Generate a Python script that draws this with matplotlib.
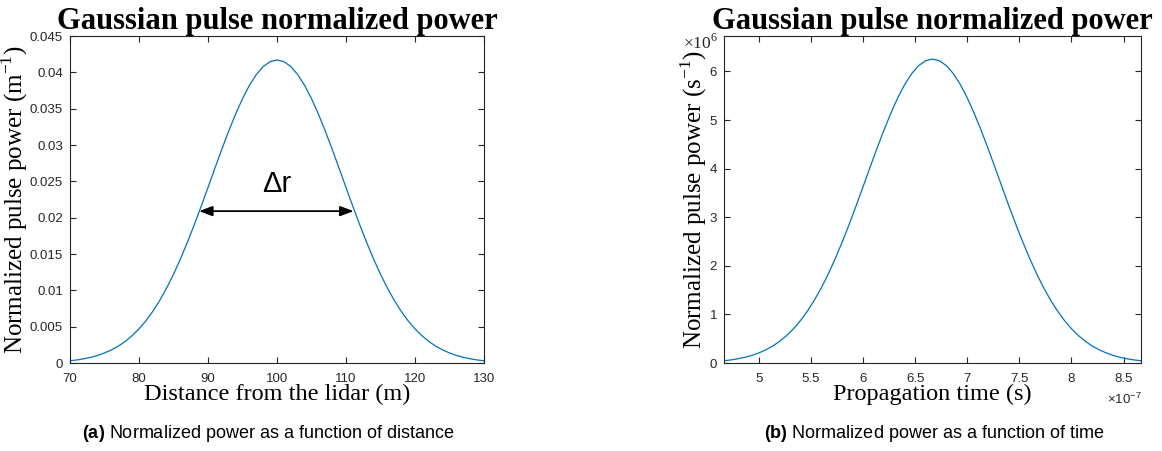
import matplotlib
matplotlib.use("Agg")
import matplotlib.pyplot as plt

# ---- data ----
distance_m = list(range(70, 131))
power_dist = [0.00031, 0.00042, 0.00058, 0.00078, 0.00104, 0.00138, 0.00180, 0.00232,
              0.00297, 0.00376, 0.00470, 0.00581, 0.00711, 0.00861, 0.01031, 0.01221,
              0.01431, 0.01658, 0.01900, 0.02154, 0.02416, 0.02680, 0.02941, 0.03191,
              0.03426, 0.03638, 0.03821, 0.03970, 0.04080, 0.04147, 0.04170,
              0.04147, 0.04080, 0.03970, 0.03821, 0.03638, 0.03426, 0.03191, 0.02941,
              0.02680, 0.02416, 0.02154, 0.01900, 0.01658, 0.01431, 0.01221, 0.01031,
              0.00861, 0.00711, 0.00581, 0.00470, 0.00376, 0.00297, 0.00232, 0.00180,
              0.00138, 0.00104, 0.00078, 0.00058, 0.00042, 0.00031]

time_e7 = [4.6667, 4.7333, 4.8, 4.8667, 4.9333, 5.0, 5.0667, 5.1333, 5.2, 5.2667,
           5.3333, 5.4, 5.4667, 5.5333, 5.6, 5.6667, 5.7333, 5.8, 5.8667, 5.9333,
           6.0, 6.0667, 6.1333, 6.2, 6.2667, 6.3333, 6.4, 6.4667, 6.5333, 6.6,
           6.6667, 6.7333, 6.8, 6.8667, 6.9333, 7.0, 7.0667, 7.1333, 7.2, 7.2667,
           7.3333, 7.4, 7.4667, 7.5333, 7.6, 7.6667, 7.7333, 7.8, 7.8667, 7.9333,
           8.0, 8.0667, 8.1333, 8.2, 8.2667, 8.3333, 8.4, 8.4667, 8.5333, 8.6, 8.6667]
power_time_e6 = [0.047, 0.063, 0.087, 0.117, 0.156, 0.207, 0.270, 0.348, 0.446, 0.564,
                 0.705, 0.872, 1.067, 1.292, 1.547, 1.832, 2.147, 2.487, 2.850, 3.231,
                 3.624, 4.020, 4.412, 4.787, 5.139, 5.457, 5.732, 5.955, 6.120, 6.220,
                 6.255,
                 6.220, 6.120, 5.955, 5.732, 5.457, 5.139, 4.787, 4.412, 4.020, 3.624,
                 3.231, 2.850, 2.487, 2.147, 1.832, 1.547, 1.292, 1.067, 0.872, 0.705,
                 0.564, 0.446, 0.348, 0.270, 0.207, 0.156, 0.117, 0.087, 0.063, 0.047]

dist_ticks = [70, 80, 90, 100, 110, 120, 130]
dist_yticks = [0, 0.005, 0.01, 0.015, 0.02, 0.025, 0.03, 0.035, 0.04, 0.045]
dist_yticklabels = ["0", "0.005", "0.01", "0.015", "0.02", "0.025", "0.03", "0.035", "0.04", "0.045"]
time_ticks = [5, 5.5, 6, 6.5, 7, 7.5, 8, 8.5]
time_ticklabels = ["5", "5.5", "6", "6.5", "7", "7.5", "8", "8.5"]
time_yticks = [0, 1, 2, 3, 4, 5, 6]
delta_r_span = [88.7, 111.1]
delta_r_level = 0.0209

SERIF = "Liberation Serif"
SANS = "Liberation Sans"
GREY = "#262626"
LINE = "#0072BD"

plt.rcParams["mathtext.fontset"] = "custom"
plt.rcParams["mathtext.rm"] = "Liberation Sans"
plt.rcParams["mathtext.bf"] = "Liberation Sans:bold"

W, H = 1162, 451
fig = plt.figure(figsize=(W / 100, H / 100), dpi=100)


def px_axes(x0, x1, ytop, ybot):
    return fig.add_axes([x0 / W, 1 - ybot / H, (x1 - x0) / W, (ybot - ytop) / H])


def style(ax):
    for s in ax.spines.values():
        s.set_color(GREY)
        s.set_linewidth(0.8)
    ax.tick_params(direction="in", length=4, width=0.8, colors=GREY,
                   top=True, right=True, labelsize=9.5)
    ax.tick_params(axis="x", pad=7.5)
    ax.tick_params(axis="y", pad=5)
    for lab in ax.get_xticklabels() + ax.get_yticklabels():
        lab.set_family(SANS)
        lab.set_color(GREY)


TITLE = dict(family=SERIF, fontsize=22, fontweight="bold", pad=5)

# ---- left panel ----
ax1 = px_axes(70, 484, 36, 363)
ax1.plot(distance_m, power_dist, color=LINE, lw=0.9)
ax1.set_xlim(70, 130)
ax1.set_ylim(0, 0.045)
ax1.set_xticks(dist_ticks)
ax1.set_xticklabels([str(t) for t in dist_ticks])
ax1.set_yticks(dist_yticks)
ax1.set_yticklabels(dist_yticklabels)
style(ax1)
ax1.set_title("Gaussian pulse normalized power", **TITLE)
ax1.set_xlabel("Distance from the lidar (m)", family=SERIF, fontsize=17.5, labelpad=-1)
ax1.set_ylabel("Normalized pulse power (m$^{\\mathregular{-1}}$)", family=SERIF,
               fontsize=18, labelpad=-0.5)
ax1.annotate("", xy=(delta_r_span[0], delta_r_level), xytext=(delta_r_span[1], delta_r_level),
             arrowprops=dict(arrowstyle="<|-|>,head_length=0.8,head_width=0.3",
                             color="black", lw=1.3, shrinkA=0, shrinkB=0))
ax1.text(sum(delta_r_span) / 2, 0.0247, "Δr", family=SANS, fontsize=21,
         ha="center", va="center", color="black")

# ---- right panel ----
ax2 = px_axes(724, 1141, 36, 363)
ax2.plot(time_e7, power_time_e6, color=LINE, lw=0.9)
ax2.set_xlim(time_e7[0], time_e7[-1])
ax2.set_ylim(0, 6.73)
ax2.set_xticks(time_ticks)
ax2.set_xticklabels(time_ticklabels)
ax2.set_yticks(time_yticks)
ax2.set_yticklabels([str(t) for t in time_yticks])
style(ax2)
ax2.set_title("Gaussian pulse normalized power", **TITLE)
ax2.set_xlabel("Propagation time (s)", family=SERIF, fontsize=17.5, labelpad=-1)
ax2.set_ylabel("Normalized pulse power (s$^{\\mathregular{-1}}$)", family=SERIF,
               fontsize=18, labelpad=0.5)
ax2.text(-6 / 417, 1 - 7 / 327, "×10$^{\\mathregular{6}}$", transform=ax2.transAxes,
         family=SERIF, fontsize=12.5, ha="right", va="center", color=GREY)
ax2.text(1.0 + 1 / 417, -36 / 327, "×10$^{\\mathregular{-7}}$", transform=ax2.transAxes,
         family=SANS, fontsize=9.5, ha="right", va="center", color=GREY)

# ---- captions ----
fig.text(268 / W, 1 - 433 / H, r"$\mathbf{(a)}$ Normalized power as a function of distance",
         family=SANS, fontsize=13, ha="center", va="center", color="black")
fig.text(934 / W, 1 - 433 / H, r"$\mathbf{(b)}$ Normalized power as a function of time",
         family=SANS, fontsize=13, ha="center", va="center", color="black")

fig.savefig("out.png", dpi=100)
